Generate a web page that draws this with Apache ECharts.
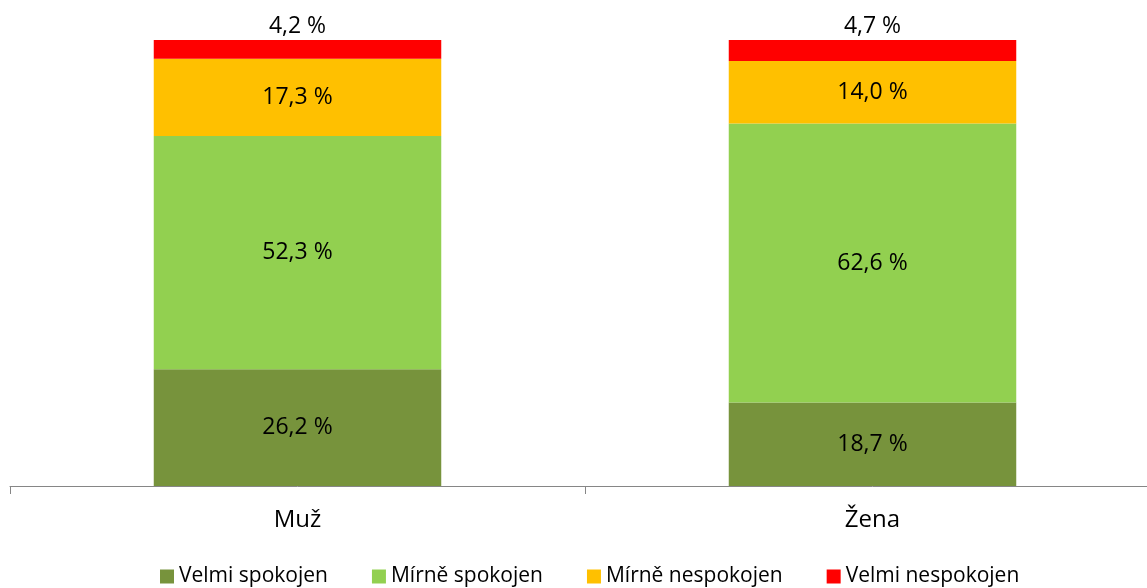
<!DOCTYPE html>
<html><head><meta charset="utf-8">
<script src="https://cdn.jsdelivr.net/npm/echarts@6/dist/echarts.min.js"></script>
<style>html,body{margin:0;padding:0;background:#fff;overflow:hidden;width:1147px;height:588px}#c{width:1160px;height:588px}</style>
</head><body><div id="c"></div>
<script>
const categories = ['Muž', 'Žena'];
const seriesNames = ['Velmi spokojen', 'Mírně spokojen', 'Mírně nespokojen', 'Velmi nespokojen'];
const velmiSpokojen = [26.2, 18.7];
const mirneSpokojen = [52.3, 62.6];
const mirneNespokojen = [17.3, 14.0];
const velmiNespokojen = [4.2, 4.7];
const colors = ['#77933C', '#92D050', '#FFC000', '#FF0000'];
const values = [velmiSpokojen, mirneSpokojen, mirneNespokojen, velmiNespokojen];
const font = "'Open Sans', 'Noto Sans', sans-serif";
const fmt = p => p.value.toFixed(1).replace('.', ',') + ' %';
const chart = echarts.init(document.getElementById('c'), null, {renderer: 'canvas'});
chart.setOption({
  animation: false,
  textStyle: {fontFamily: font},
  grid: {left: 10, right: 0, top: 40, bottom: 102},
  legend: {
    bottom: -4, left: 155, itemWidth: 14, itemHeight: 14, itemGap: 44,
    icon: 'rect', textStyle: {fontSize: 21, color: '#000', fontFamily: font},
    data: seriesNames
  },
  xAxis: {
    type: 'category', data: categories,
    axisLine: {lineStyle: {color: '#868686', width: 1}},
    axisTick: {show: true, length: 8, alignWithLabel: false, lineStyle: {color: '#868686'}},
    axisLabel: {fontSize: 24, color: '#000', margin: 22, fontFamily: font}
  },
  yAxis: {type: 'value', min: 0, max: 100, show: false},
  series: values.map((v, i) => ({
    name: seriesNames[i], type: 'bar', stack: 'a', data: v, barWidth: '50%',
    itemStyle: {color: colors[i]},
    label: {show: true, position: i === 3 ? 'top' : 'inside', formatter: fmt,
      fontSize: 23, color: '#000', fontFamily: font, distance: 2}
  }))
});
</script></body></html>
